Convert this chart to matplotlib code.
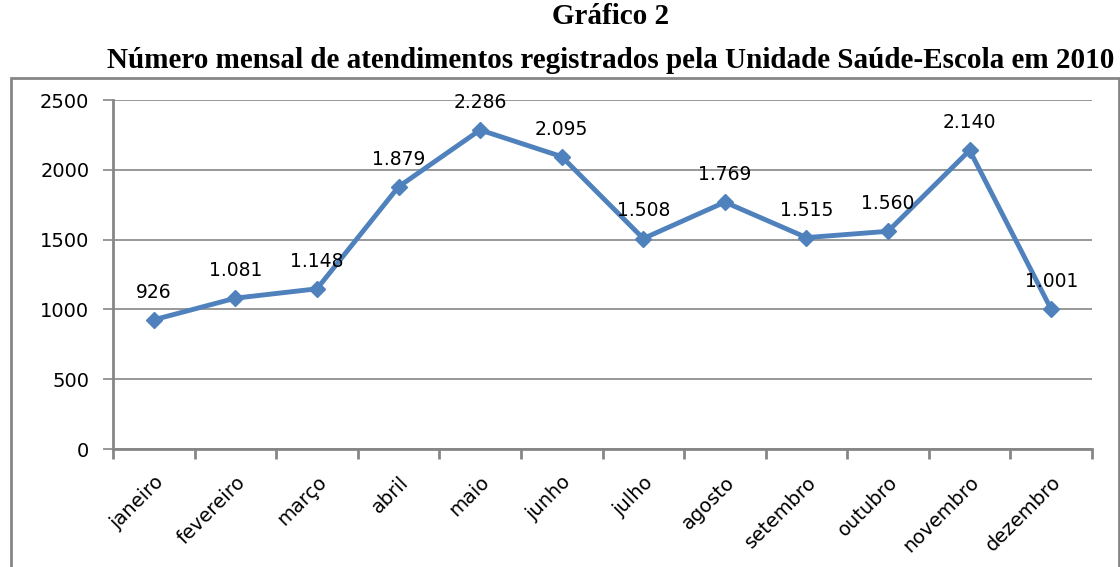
import numpy as np
import matplotlib.pyplot as plt
from matplotlib.patches import Rectangle

meses = ['janeiro', 'fevereiro', 'março', 'abril', 'maio', 'junho', 'julho',
         'agosto', 'setembro', 'outubro', 'novembro', 'dezembro']
atendimentos = [926, 1081, 1148, 1879, 2286, 2095, 1508, 1769, 1515, 1560, 2140, 1001]
rotulos = ['926', '1.081', '1.148', '1.879', '2.286', '2.095', '1.508', '1.769',
           '1.515', '1.560', '2.140', '1.001']
yticks = [0, 500, 1000, 1500, 2000, 2500]

plt.rcParams['font.family'] = 'DejaVu Sans'
cinza = '#868686'
azul = '#4F81BD'

fig = plt.figure(figsize=(11.2, 5.67), dpi=100)
ax = fig.add_axes([0.1009, 0.208, 0.8741, 0.6155])

x = np.arange(len(meses))
ax.plot(x, atendimentos, color=azul, lw=3.5, marker='D', ms=8.5,
        markerfacecolor=azul, markeredgecolor=azul, zorder=3)
for xi, yi, r in zip(x, atendimentos, rotulos):
    ax.annotate(r, (xi, yi), xytext=(0, 13), textcoords='offset points',
                ha='center', va='bottom', fontsize=13.5)

ax.set_xlim(-0.5, len(meses) - 0.5)
ax.set_ylim(0, 2500)
ax.set_yticks(yticks)
ax.set_yticklabels([str(v) for v in yticks], fontsize=14)
ax.yaxis.grid(True, color=cinza, lw=1.2)
ax.set_axisbelow(True)

ax.set_xticks(np.arange(len(meses) + 1) - 0.5)
ax.set_xticklabels([])
ax.set_xticks(x, minor=True)
ax.set_xticklabels(meses, minor=True, rotation=45, ha='right',
                   rotation_mode='anchor', fontsize=14)
ax.tick_params(axis='x', which='minor', length=0, pad=17)
ax.tick_params(axis='x', which='major', length=7, width=2, color=cinza, direction='out')
ax.tick_params(axis='y', length=7, width=1.2, color=cinza, pad=10)

for s in ['top', 'right']:
    ax.spines[s].set_visible(False)
for s in ['left', 'bottom']:
    ax.spines[s].set_color(cinza)
    ax.spines[s].set_linewidth(2)

fig.patches.append(Rectangle((11 / 1120, -0.1), 1108 / 1120, 1.1 - 78 / 567,
                             transform=fig.transFigure, fill=False,
                             edgecolor=cinza, lw=2))

fig.text(0.5455, 1 - 17 / 567, 'Gráfico 2', ha='center', va='center',
         fontsize=21, fontweight='bold', family='Liberation Serif')
fig.text(0.5455, 1 - 60 / 567,
         'Número mensal de atendimentos registrados pela Unidade Saúde-Escola em 2010',
         ha='center', va='center', fontsize=21, fontweight='bold', family='Liberation Serif')

fig.savefig('out.png', dpi=100)
